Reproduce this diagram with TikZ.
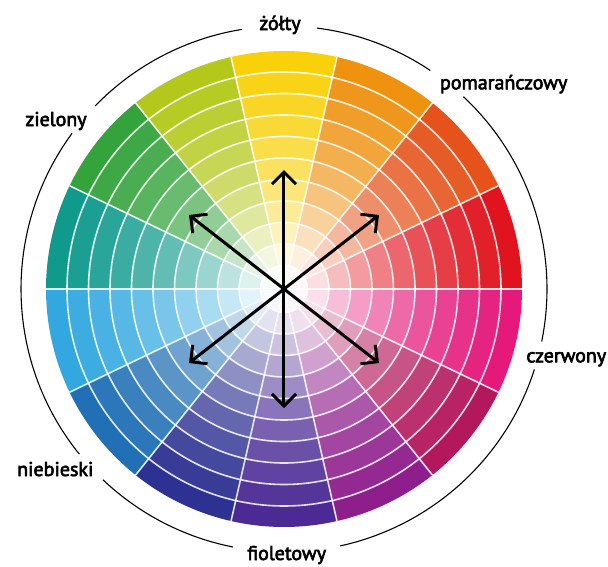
\documentclass[tikz,border=0pt]{standalone}
\usepackage{fontspec}
\setmainfont{PT Sans}
\newfontfamily\huefont{PT Sans}[FakeBold=3]
\usetikzlibrary{arrows.meta}
\definecolor{whlyellow}{HTML}{F8D10A}
\definecolor{whlorange}{HTML}{EE9210}
\definecolor{whlredorange}{HTML}{E5531B}
\definecolor{whlred}{HTML}{E0141E}
\definecolor{whlpink}{HTML}{E4197A}
\definecolor{whlcrimson}{HTML}{B3185C}
\definecolor{whlpurple}{HTML}{8E1E8C}
\definecolor{whlviolet}{HTML}{4B2A95}
\definecolor{whlindigo}{HTML}{2D3292}
\definecolor{whlblue}{HTML}{2170B5}
\definecolor{whlsky}{HTML}{33A8E0}
\definecolor{whlteal}{HTML}{0F9A8C}
\definecolor{whlgreen}{HTML}{34A33C}
\definecolor{whllime}{HTML}{B3C81A}
\tikzset{
  ringline/.style={white,line width=1.6pt,opacity=0.85},
  hexarrow/.style={{Straight Barb[length=12pt,width=24pt]}-{Straight Barb[length=12pt,width=24pt]},line width=3pt},
  hue/.style={font=\huefont\fontsize{20}{24}\selectfont,anchor=base,inner sep=0pt}
}

\begin{document}
\begin{tikzpicture}[x=1pt,y=1pt]
  \useasboundingbox (-284,-277) rectangle (324,289);
  % sectors, outer band first
  \foreach \col [count=\k from 0] in {whlyellow,whlorange,whlredorange,whlred,whlpink,whlcrimson,whlpurple,whlviolet,whlindigo,whlblue,whlsky,whlteal,whlgreen,whllime}{
    \pgfmathsetmacro\aone{77.1429-25.7143*\k}
    \pgfmathsetmacro\atwo{\aone+25.7143}
    \foreach \r/\p in {238/100,217/95,195.5/89,174/82,152.5/74,131/65,109.5/54,88/42,66.5/28,45/14,23.5/4}{
      \fill[\col!\p!white] (0,0) -- (\aone:\r) arc[start angle=\aone,end angle=\atwo,radius=\r] -- cycle;
    }
  }
  \foreach \r in {217,195.5,174,152.5,131,109.5,88,66.5,45,23.5}
    \draw[ringline] (0,0) circle[radius=\r];
  \foreach \k in {0,...,13}
    \draw[ringline] (0,0) -- (77.1429+25.7143*\k:238);

  % outer ring
  \draw[line width=1.1pt] (99.2:263) arc[start angle=99.2,end angle=135.9,radius=263]
    (143.7:263) arc[start angle=143.7,end angle=218.9,radius=263]
    (226.5:263) arc[start angle=226.5,end angle=258.8,radius=263]
    (282.3:263) arc[start angle=282.3,end angle=342.2,radius=263]
    (348.5:263) arc[start angle=348.5,end angle=407,radius=263]
    (56.2:263) arc[start angle=56.2,end angle=82.8,radius=263];

  \node[hue] (yel) at (-4,259) {żółty};
  \node[hue] (ora) at (219.7,199.7) {pomarańczowy};
  \node[hue] (gre) at (-228,163) {zielony};
  \node[hue] (red) at (282.3,-73.3) {czerwony};
  \node[hue] (blu) at (-228.7,-187) {niebieski};
  \node[hue] (vio) at (2.7,-271) {fioletowy};

  \coordinate (c) at (0,0);
  \coordinate (up) at (0,119);
  \coordinate (dn) at (0,-119);
  \coordinate (ul) at (-95,74);
  \coordinate (ur) at (95,74);
  \coordinate (dl) at (-95,-74);
  \coordinate (dr) at (95,-74);
  \draw[hexarrow] (dn) -- (up);
  \draw[hexarrow] (dl) -- (ur);
  \draw[hexarrow] (ul) -- (dr);
\end{tikzpicture}
\end{document}
